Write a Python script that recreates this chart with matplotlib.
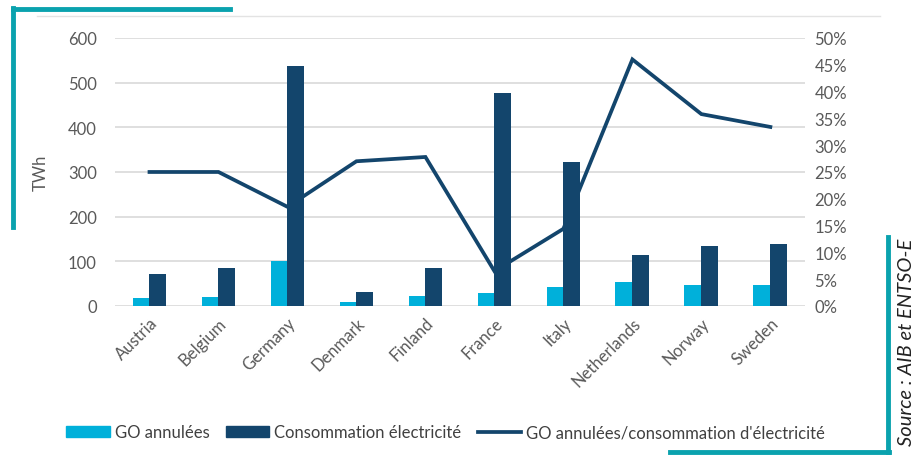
import numpy as np
import matplotlib
matplotlib.use("Agg")
import matplotlib.pyplot as plt
from matplotlib.lines import Line2D

plt.rcParams['font.family'] = ['Lato', 'DejaVu Sans']

countries = ['Austria', 'Belgium', 'Germany', 'Denmark', 'Finland',
             'France', 'Italy', 'Netherlands', 'Norway', 'Sweden']
go_annulees = [17, 19, 100, 8, 23, 30, 43, 53, 46, 46]
consommation = [71, 85, 537, 32, 86, 476, 322, 115, 135, 139]
ratio_pct = [25.0, 25.0, 18.5, 27.0, 27.8, 6.5, 14.4, 46.0, 35.8, 33.4]

light = '#00B0DA'
dark = '#13456C'
teal = '#0AA2AE'
grey = '#595959'

fig = plt.figure(figsize=(9.23, 4.56), dpi=100)
ax = fig.add_axes([0.1246, 0.3268, 0.7474, 0.5877])
ax2 = ax.twinx()

x = np.arange(len(countries))
w = 0.245
ax.bar(x - w / 2, go_annulees, w, color=light, label='GO annulées', zorder=3)
ax.bar(x + w / 2, consommation, w, color=dark, label='Consommation électricité', zorder=3)
ax2.plot(x, ratio_pct, color=dark, lw=2.7, solid_joinstyle='miter',
         label="GO annulées/consommation d'électricité")

ax.set_xlim(-0.5, len(countries) - 0.5)
ax.set_ylim(0, 600)
ax.set_yticks(range(0, 601, 100))
ax2.set_ylim(0, 50)
ax2.set_yticks(range(0, 51, 5))
ax2.set_yticklabels([f'{v}%' for v in range(0, 51, 5)])

ax.grid(axis='y', color='#d9d9d9', lw=1.2, zorder=0)
ax.set_axisbelow(True)
for a in (ax, ax2):
    for s in a.spines.values():
        s.set_visible(False)
    a.tick_params(length=0, colors=grey, labelsize=12)
ax.tick_params(axis='y', pad=13)
ax2.tick_params(axis='y', pad=7)

ax.set_xticks(x)
ax.set_xticklabels(countries, rotation=45, ha='right', rotation_mode='anchor')
ax.tick_params(axis='x', pad=6)
ax.set_ylabel('TWh', color=grey, fontsize=12, labelpad=14)

handles = [
    plt.Rectangle((0, 0), 1, 1, color=light),
    plt.Rectangle((0, 0), 1, 1, color=dark),
    Line2D([0], [0], color=dark, lw=2.7),
]
labels = ['GO annulées', 'Consommation électricité', "GO annulées/consommation d'électricité"]
leg = fig.legend(handles, labels, loc='center', bbox_to_anchor=(0.483, 0.05), ncol=3,
                 frameon=False, fontsize=12, handlelength=2.6, handleheight=0.6,
                 handletextpad=0.3, columnspacing=1.0)
for t in leg.get_texts():
    t.set_color('#404040')

# decorative frame lines
fig.add_artist(Line2D([37 / 923, 880 / 923], [1 - 17 / 456] * 2, color='#e3e3e3', lw=1))
fig.add_artist(Line2D([13 / 923, 230 / 923], [1 - 10 / 456] * 2, color=teal, lw=3.5))
fig.add_artist(Line2D([13 / 923] * 2, [1 - 9 / 456, 1 - 228 / 456], color=teal, lw=3.5))
fig.add_artist(Line2D([888 / 923] * 2, [1 - 238 / 456, 1 - 453 / 456], color=teal, lw=3.5))
fig.add_artist(Line2D([670 / 923, 889 / 923], [1 - 453 / 456] * 2, color=teal, lw=3.5))

fig.text(906 / 923, 1 - 342 / 456, 'Source : AIB et ENTSO-E', rotation=90, style='italic',
         fontsize=14.5, color='#222222', ha='center', va='center')

fig.savefig('out.png', dpi=100)
